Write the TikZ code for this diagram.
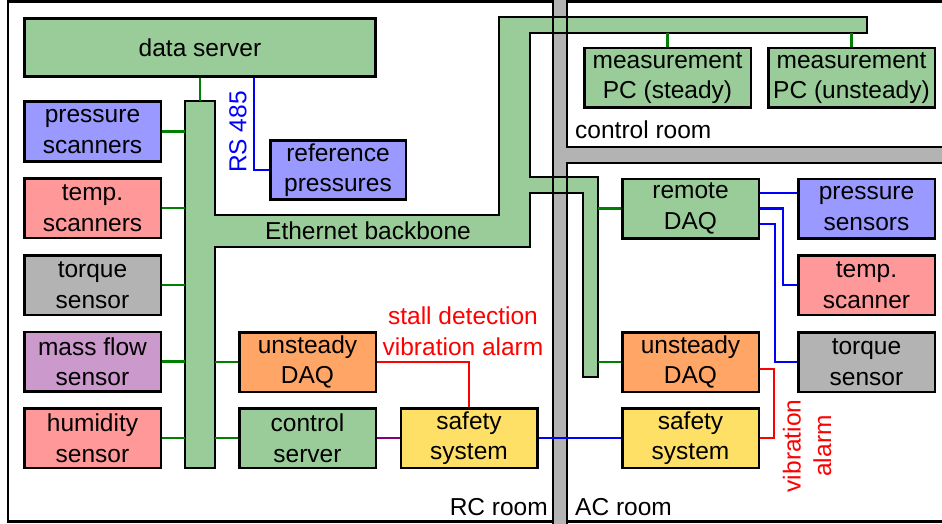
\documentclass[tikz,border=0pt]{standalone}
\usepackage{fontspec}
\setmainfont{Liberation Sans}
\definecolor{bgreen}{RGB}{153,204,153}
\definecolor{bblue}{RGB}{153,153,255}
\definecolor{bpink}{RGB}{255,153,153}
\definecolor{bgray}{RGB}{179,179,179}
\definecolor{bpurple}{RGB}{204,153,204}
\definecolor{borange}{RGB}{255,166,102}
\definecolor{byellow}{RGB}{255,224,102}
\definecolor{lgreen}{RGB}{0,128,0}
\definecolor{lpurple}{RGB}{128,0,128}
\begin{document}
\begin{tikzpicture}[x=1pt,y=-1pt,
  txt/.style={font=\fontsize{24.5}{30.5}\selectfont, inner sep=0pt, align=center},
  box/.style={txt, draw=black, line width=2.5pt, minimum width=136.5pt, minimum height=59.5pt},
  gline/.style={draw=lgreen, line width=2.2pt},
  bline/.style={draw=blue, line width=2.2pt},
  rline/.style={draw=red, line width=2.2pt},
  pline/.style={draw=lpurple, line width=2.2pt},
  wall/.style={draw=black, line width=2.5pt}]
\useasboundingbox (0,0) rectangle (942,524);
% frame
\draw[line width=2.5pt] (950,1.5) -- (8,1.5) -- (8,521.5) -- (950,521.5);
% walls fill
\fill[bgray] (553,-5) rectangle (567,530);
\fill[bgray] (567,147) rectangle (950,163);
% backbone
\path[fill=bgreen] (185,101) -- (215,101) -- (215,215) -- (499,215) -- (499,17) -- (867,17) -- (867,33) -- (530,33) -- (530,177) -- (598,177) -- (598,377) -- (583,377) -- (583,193) -- (530,193) -- (530,247) -- (215,247) -- (215,468) -- (185,468) -- cycle;
% wall outlines
\draw[wall] (553,-5) -- (553,530);
\draw[wall] (567,-5) -- (567,147) -- (950,147);
\draw[wall] (950,163) -- (567,163) -- (567,530);
% backbone outline
\draw[line width=2.5pt, line join=miter] (185,101) -- (215,101) -- (215,215) -- (499,215) -- (499,17) -- (867,17) -- (867,33) -- (530,33) -- (530,177) -- (598,177) -- (598,377) -- (583,377) -- (583,193) -- (530,193) -- (530,247) -- (215,247) -- (215,468) -- (185,468) -- cycle;
\node[txt] (eth) at (368,231) {Ethernet backbone};
\coordinate (bbtop) at (200,101);
\coordinate (bbl) at (185,0);
\coordinate (bbr) at (215,0);
\coordinate (bbr2) at (598,0);
\coordinate (tbar) at (0,33);
\coordinate (rs) at (254,0);
\coordinate (j2) at (783,0);
\coordinate (j3) at (775,0);
\coordinate (j4) at (774,0);
% nodes
\node[box, fill=bgreen, minimum width=351pt, minimum height=58pt] (ds) at (200,47.5) {data server};
\node[box, fill=bblue] (ps) at (92.5,131.5) {pressure\\scanners};
\node[box, fill=bpink] (ts) at (92.5,208) {temp.\\scanners};
\node[box, fill=bgray] (tq) at (92.5,285) {torque\\sensor};
\node[box, fill=bpurple] (mf) at (92.5,361.5) {mass flow\\sensor};
\node[box, fill=bpink] (hs) at (92.5,438) {humidity\\sensor};
\node[box, fill=bblue, minimum width=135.5pt, minimum height=59pt] (ref) at (338,170) {reference\\pressures};
\node[box, fill=borange] (udaq) at (307.5,362) {unsteady\\DAQ};
\node[box, fill=bgreen] (cs) at (307.5,438) {control\\server};
\node[box, fill=byellow] (ss) at (469,438) {safety\\system};
\node[box, fill=bgreen, minimum width=166.5pt] (mps) at (667.5,78) {measurement\\PC (steady)};
\node[box, fill=bgreen, minimum width=166.5pt] (mpu) at (851.5,78) {measurement\\PC (unsteady)};
\node[box, fill=bgreen] (rdaq) at (690.5,208.5) {remote\\DAQ};
\node[box, fill=bblue] (psen) at (866.5,208.5) {pressure\\sensors};
\node[box, fill=bpink] (tsc) at (866.5,285) {temp.\\scanner};
\node[box, fill=bgray] (tqs) at (866.5,362) {torque\\sensor};
\node[box, fill=borange] (udaq2) at (690.5,362) {unsteady\\DAQ};
\node[box, fill=byellow] (ss2) at (690.5,438) {safety\\system};
% green connectors
\draw[gline] (ds.south -| bbtop) -- (bbtop);
\foreach \n in {ps,ts,tq,mf,hs} \draw[gline] (\n.east) -- (\n.east -| bbl);
\draw[gline] (bbr |- udaq.west) -- (udaq.west);
\draw[gline] (bbr |- cs.west) -- (cs.west);
\draw[gline] (mps.north) -- (mps.north |- tbar);
\draw[gline] (mpu.north) -- (mpu.north |- tbar);
\draw[gline] (bbr2 |- rdaq.west) -- (rdaq.west);
\draw[gline] (bbr2 |- udaq2.west) -- (udaq2.west);
% other connectors
\draw[bline] (ds.south -| rs) |- (ref.west);
\draw[pline] (cs.east) -- (ss.west);
\draw[rline] (udaq.east) -| (ss.north);
\draw[bline] (ss.east) -- (ss2.west);
\coordinate (r1) at ([yshift=15.5pt]rdaq.east);
\coordinate (r3) at ([yshift=-15.5pt]rdaq.east);
\coordinate (r4) at ([yshift=-7pt]udaq2.east);
\draw[bline] (r1) -- (r1 -| psen.west);
\draw[bline] (rdaq.east) -- (rdaq.east -| j2) |- (tsc.west);
\draw[bline] (r3) -- (r3 -| j3) |- (tqs.west);
\draw[rline] (r4) -- (r4 -| j4) |- (ss2.east);
% labels
\node[txt, text=blue, rotate=90] (rslab) at (238,132) {RS 485};
\node[txt, text=red] (stall) at (463,331) {stall detection\\vibration alarm};
\node[txt, text=red, rotate=90] (vib) at (807,446) {vibration\\alarm};
\node[txt, anchor=west] (ctrl) at (575,130) {control room};
\node[txt, anchor=east] (rc) at (548,507) {RC room};
\node[txt, anchor=west] (ac) at (575,507) {AC room};
\end{tikzpicture}
\end{document}
